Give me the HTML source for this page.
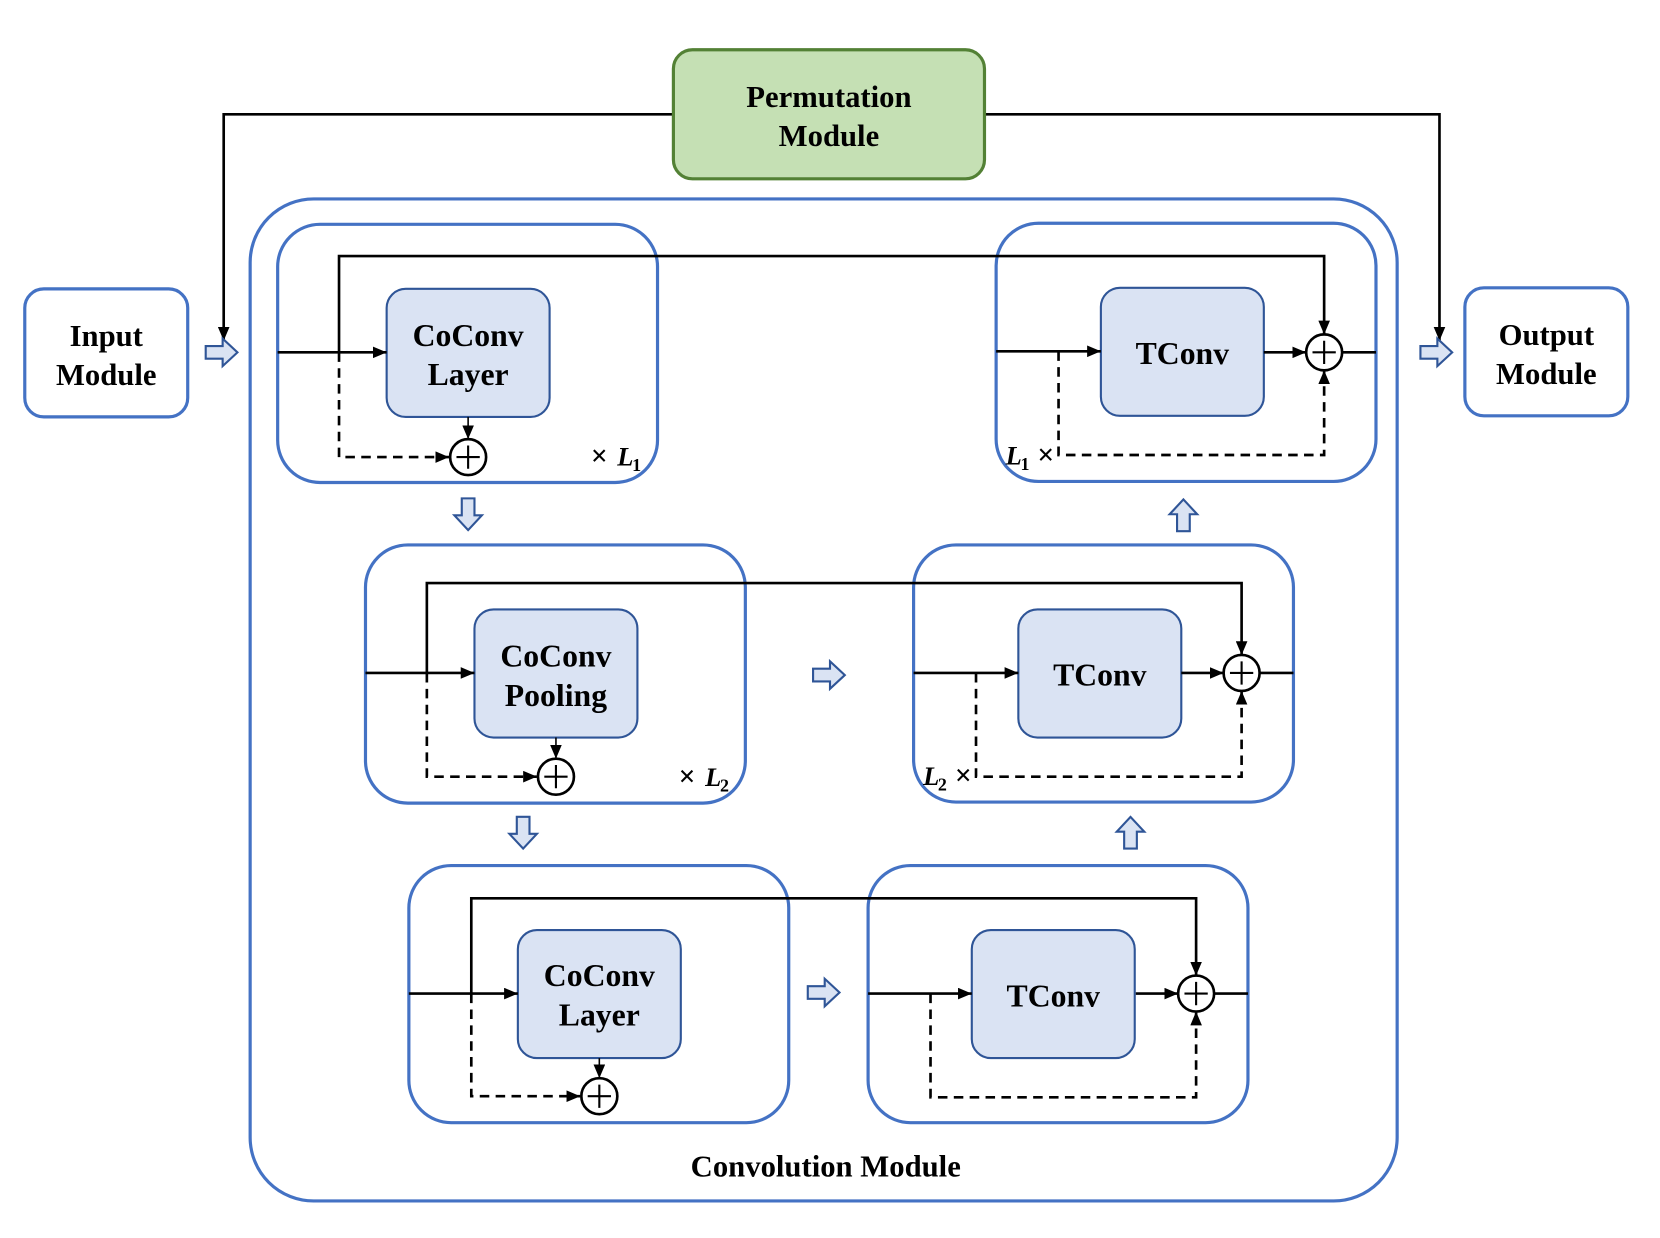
<!DOCTYPE html>
<html><head><meta charset="utf-8"><style>
html,body{margin:0;padding:0;background:#fff;}
svg{display:block;}
text{font-family:"Liberation Serif",serif;font-weight:bold;fill:#000;}
</style></head><body>
<svg width="1660" height="1238" viewBox="0 0 1568 1170" xmlns="http://www.w3.org/2000/svg">
<defs>
<marker id="a" viewBox="0 0 13 11" refX="13" refY="5.5" markerWidth="13" markerHeight="11" orient="auto" markerUnits="userSpaceOnUse"><path d="M0,0 L13,5.5 L0,11 z" fill="#000"/></marker>
<g id="ra"><path d="M-15,-6 h16 v-7 l14,13 l-14,13 v-7 h-16 z" fill="#dae3f3" stroke="#2f5597" stroke-width="2"/></g>
</defs>
<g fill="none" stroke="#000" stroke-width="2.5">
<polyline points="636,108 211,108 211,322" marker-end="url(#a)"/>
<polyline points="930,108 1360,108 1360,322" marker-end="url(#a)"/>
</g>
<rect x="636" y="47" width="294" height="122" rx="18" fill="#c5e0b4" stroke="#538135" stroke-width="3"/>
<text x="783" y="101" font-size="29" text-anchor="middle">Permutation</text>
<text x="783" y="138" font-size="29" text-anchor="middle">Module</text>
<rect x="23" y="273" width="154" height="121" rx="18" fill="#fff" stroke="#4472c4" stroke-width="3"/>
<text x="100" y="327" font-size="29" text-anchor="middle">Input</text>
<text x="100" y="364" font-size="29" text-anchor="middle">Module</text>
<rect x="1384" y="272" width="154" height="121" rx="18" fill="#fff" stroke="#4472c4" stroke-width="3"/>
<text x="1461" y="326" font-size="29" text-anchor="middle">Output</text>
<text x="1461" y="363" font-size="29" text-anchor="middle">Module</text>
<use href="#ra" transform="translate(209,333)"/>
<use href="#ra" transform="translate(1357,333)"/>
<rect x="236" y="188" width="1084" height="947" rx="60" fill="none" stroke="#4472c4" stroke-width="3"/>
<text x="780" y="1112" font-size="29" text-anchor="middle">Convolution Module</text>

<g fill="none" stroke="#4472c4" stroke-width="3">
<rect x="262" y="212" width="359" height="244" rx="40"/>
<rect x="345" y="515" width="359" height="244" rx="40"/>
<rect x="386" y="818" width="359" height="243" rx="40"/>
<rect x="941" y="211" width="359" height="244" rx="40"/>
<rect x="863" y="515" width="359" height="243" rx="40"/>
<rect x="820" y="818" width="359" height="243" rx="40"/>
</g>
<g fill="#dae3f3" stroke="#2f5597" stroke-width="2">
<rect x="365" y="273" width="154" height="121" rx="18"/>
<rect x="448" y="576" width="154" height="121" rx="18"/>
<rect x="489" y="879" width="154" height="121" rx="18"/>
<rect x="1040" y="272" width="154" height="121" rx="18"/>
<rect x="962" y="576" width="154" height="121" rx="18"/>
<rect x="918" y="879" width="154" height="121" rx="18"/>
</g>
<g font-size="30" text-anchor="middle">
<text x="442" y="327">CoConv</text><text x="442" y="364">Layer</text>
<text x="525" y="630">CoConv</text><text x="525" y="667">Pooling</text>
<text x="566" y="932">CoConv</text><text x="566" y="969">Layer</text>
<text x="1117" y="344">TConv</text>
<text x="1039" y="648">TConv</text>
<text x="995" y="951">TConv</text>
</g>
<g fill="none" stroke="#000" stroke-width="2.5">
<line x1="262" y1="333" x2="365" y2="333" marker-end="url(#a)"/>
<polyline points="320,333 320,242 1251,242 1251,316" marker-end="url(#a)"/>
<polyline points="320,333 320,432 424,432" stroke-dasharray="9,6" marker-end="url(#a)"/>
<line x1="442" y1="394" x2="442" y2="415" stroke-width="1.5" marker-end="url(#a)"/>
<line x1="345" y1="636" x2="448" y2="636" marker-end="url(#a)"/>
<polyline points="403,636 403,551 1173,551 1173,619" marker-end="url(#a)"/>
<polyline points="403,636 403,734 507,734" stroke-dasharray="9,6" marker-end="url(#a)"/>
<line x1="525" y1="697" x2="525" y2="717" stroke-width="1.5" marker-end="url(#a)"/>
<line x1="386" y1="939" x2="489" y2="939" marker-end="url(#a)"/>
<polyline points="445,939 445,849 1130,849 1130,922" marker-end="url(#a)"/>
<polyline points="445,939 445,1036 548,1036" stroke-dasharray="9,6" marker-end="url(#a)"/>
<line x1="566" y1="1000" x2="566" y2="1019" stroke-width="1.5" marker-end="url(#a)"/>
<line x1="941" y1="332" x2="1040" y2="332" marker-end="url(#a)"/>
<line x1="1194" y1="333" x2="1234" y2="333" marker-end="url(#a)"/>
<line x1="1268" y1="333" x2="1300" y2="333"/>
<polyline points="1000,332 1000,430 1251,430 1251,350" stroke-dasharray="9,6" marker-end="url(#a)"/>
<line x1="863" y1="636" x2="962" y2="636" marker-end="url(#a)"/>
<line x1="1116" y1="636" x2="1156" y2="636" marker-end="url(#a)"/>
<line x1="1190" y1="636" x2="1222" y2="636"/>
<polyline points="922,636 922,734 1173,734 1173,653" stroke-dasharray="9,6" marker-end="url(#a)"/>
<line x1="820" y1="939" x2="918" y2="939" marker-end="url(#a)"/>
<line x1="1073" y1="939" x2="1113" y2="939" marker-end="url(#a)"/>
<line x1="1147" y1="939" x2="1179" y2="939"/>
<polyline points="879,939 879,1037 1130,1037 1130,956" stroke-dasharray="9,6" marker-end="url(#a)"/>
</g>
<g fill="#fff" stroke="#000" stroke-width="2.5">
<circle cx="442" cy="432" r="17"/><circle cx="525" cy="734" r="17"/><circle cx="566" cy="1036" r="17"/>
<circle cx="1251" cy="333" r="17"/><circle cx="1173" cy="636" r="17"/><circle cx="1130" cy="939" r="17"/>
</g>
<g stroke="#000" stroke-width="2">
<path d="M431,432h22M442,421v22"/><path d="M514,734h22M525,723v22"/><path d="M555,1036h22M566,1025v22"/>
<path d="M1240,333h22M1251,322v22"/><path d="M1162,636h22M1173,625v22"/><path d="M1119,939h22M1130,928v22"/>
</g>
<g font-size="25">
<text x="558" y="440" font-weight="normal" font-size="28">×</text><text x="583" y="440" font-style="italic">L</text><text x="597" y="445" font-size="17">1</text>
<text x="641" y="743" font-weight="normal" font-size="28">×</text><text x="666" y="743" font-style="italic">L</text><text x="680" y="748" font-size="17">2</text>
<text x="950" y="439" font-style="italic">L</text><text x="964" y="444" font-size="17">1</text><text x="980" y="439" font-weight="normal" font-size="28">×</text>
<text x="872" y="742" font-style="italic">L</text><text x="886" y="747" font-size="17">2</text><text x="902" y="742" font-weight="normal" font-size="28">×</text>
</g>
<use href="#ra" transform="translate(783,638)"/>
<use href="#ra" transform="translate(778,938)"/>
<use href="#ra" transform="translate(442,486) rotate(90)"/>
<use href="#ra" transform="translate(494,787) rotate(90)"/>
<use href="#ra" transform="translate(1118,487) rotate(-90)"/>
<use href="#ra" transform="translate(1068,787) rotate(-90)"/>
</svg>
</body></html>
